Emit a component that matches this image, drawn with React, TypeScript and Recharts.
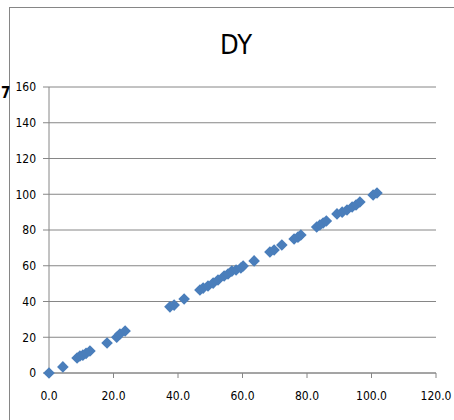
import { ScatterChart, Scatter, XAxis, YAxis, CartesianGrid } from "recharts";

const xValues = [
  0, 4.3, 8.7, 9.6, 10.5, 11.5, 12.7, 18, 21, 22, 23.6, 37.5, 38.8, 41.9, 46.8,
  47.8, 49.3, 50.9, 52.4, 54.3, 55.5, 56.7, 58, 59.5, 60.2, 63.6, 68.5, 69.8,
  72.2, 76, 77.2, 78.1, 83, 84, 85, 86, 89.3, 90.9, 92.4, 94, 95.2, 96.4,
  100.5, 101.7,
];
const yValues = [
  0, 3.4, 8.4, 9.5, 10, 11, 12.3, 16.8, 20, 21.8, 23.5, 37, 38, 41.4, 46.4,
  47.5, 48.7, 50.3, 52, 54.3, 55.4, 57, 57.6, 58.7, 59.9, 62.7, 67.7, 68.8,
  71.6, 75, 76, 77.2, 81.7, 82.8, 83.9, 85, 89, 90, 91.2, 92.9, 94, 95.7,
  99.6, 100.7,
];
const xTicks = [0, 20, 40, 60, 80, 100, 120];
const yTicks = [0, 20, 40, 60, 80, 100, 120, 140, 160];

const data = xValues.map((x, i) => ({ x, y: yValues[i] }));

const FONT = "'Liberation Sans Narrow', 'DejaVu Sans Condensed', 'Liberation Sans', sans-serif";
const GRID = "#868686";
const BLUE = "#4a7ebb";

const Diamond = (props: any) => {
  const { cx, cy } = props;
  const r = 5.8;
  return (
    <polygon
      points={`${cx},${cy - r} ${cx + r},${cy} ${cx},${cy + r} ${cx - r},${cy}`}
      fill={BLUE}
    />
  );
};

export default function App() {
  return (
    <div style={{ position: "absolute", left: 0, top: 0, width: 454, height: 420, overflow: "hidden", background: "#fff" }}>
      {/* chart frame, only top and left edges show */}
      <div
        style={{
          position: "absolute",
          left: 9,
          top: 7,
          width: 460,
          height: 430,
          borderTop: `1px solid ${GRID}`,
          borderLeft: `1px solid ${GRID}`,
        }}
      />
      <div
        style={{
          position: "absolute",
          left: 1,
          top: 86,
          fontFamily: FONT,
          fontWeight: "bold",
          fontSize: 15,
          lineHeight: "15px",
          color: "#000",
        }}
      >
        7
      </div>
      <div
        style={{
          position: "absolute",
          left: 0,
          top: 29,
          width: 472,
          textAlign: "center",
          fontFamily: FONT,
          fontSize: 27,
          color: "#000",
        }}
      >
        DY
      </div>
      <div style={{ position: "absolute", left: 0, top: 0 }}>
        <ScatterChart
          width={454}
          height={420}
          margin={{ top: 87, right: 18, bottom: 17, left: 0 }}
        >
          <CartesianGrid horizontal vertical={false} stroke={GRID} strokeWidth={1} />
          <XAxis
            type="number"
            dataKey="x"
            domain={[0, 120]}
            ticks={xTicks}
            tickFormatter={(v: number) => v.toFixed(1)}
            height={30}
            tickSize={5}
            tickMargin={13}
            stroke={GRID}
            tick={{ fill: "#000", fontSize: 12, fontFamily: FONT }}
            interval={0}
          />
          <YAxis
            type="number"
            dataKey="y"
            domain={[0, 160]}
            ticks={yTicks}
            width={49}
            tickSize={6}
            tickMargin={7}
            stroke={GRID}
            tick={{ fill: "#000", fontSize: 12, fontFamily: FONT }}
            interval={0}
          />
          <Scatter data={data} shape={<Diamond />} isAnimationActive={false} />
        </ScatterChart>
      </div>
    </div>
  );
}
